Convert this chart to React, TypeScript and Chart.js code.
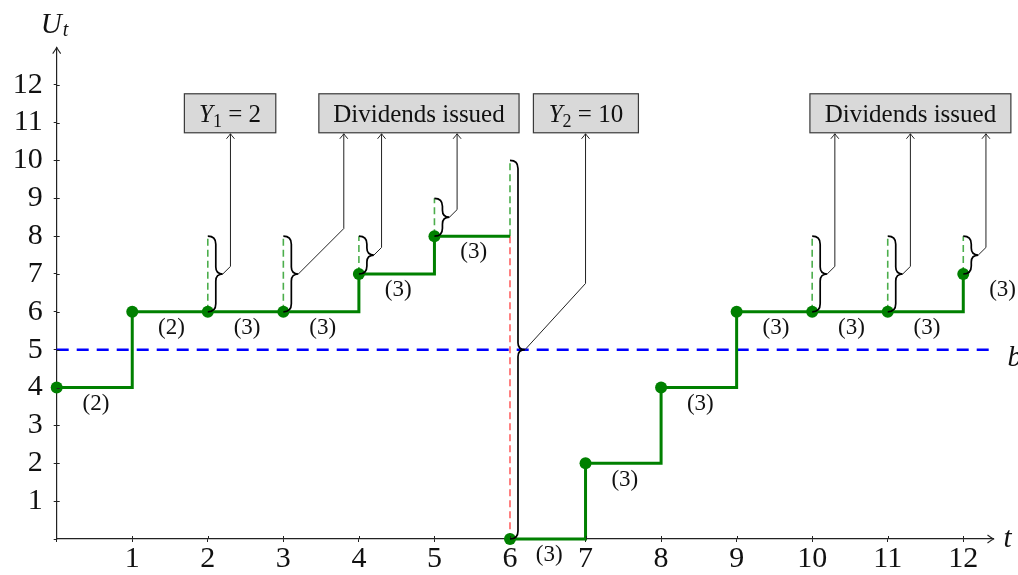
import React, { useEffect, useRef } from 'react';
import { Chart, registerables } from 'chart.js';

Chart.register(...registerables);

const SERIF = '"Liberation Serif", "Times New Roman", serif';
const GREEN = '#008000';
const GREEN_DASH = 'rgba(0,140,0,0.7)';
const RED_DASH = 'rgba(255,40,40,0.72)';
const BLUE = '#0000ff';

// ---- Surplus process U_t (step path, drawn with stepped lines) ----
const pathTimesA = [0, 1, 2, 3, 4, 5, 6];
const pathValuesA = [4, 6, 6, 6, 7, 8, 8];
const pathDotsA = [true, true, true, true, true, true, false];
const pathTimesB = [6, 7, 8, 9, 10, 11, 12];
const pathValuesB = [0, 2, 4, 6, 6, 6, 7];

// ---- ruin drop ----
const ruinTime = 6;
const ruinFrom = 8;
const ruinTo = 0;

// ---- barrier b ----
const barrierLevel = 5;
const barrierStart = 0;
const barrierEnd = 12.4;

// ---- overflow / dividend jumps (green dashed + braces) ----
const jumpTimes = [2, 3, 4, 5, 6, 10, 11, 12];
const jumpLow = [6, 6, 7, 8, 8, 6, 6, 7];
const jumpHigh = [8, 8, 8, 9, 10, 8, 8, 8];
const braceLow = [6, 6, 7, 8, 0, 6, 6, 7];

// ---- arrow knees (from brace tip to label boxes) ----
const kneeX = [2.3, 3.8, 4.3, 5.3, 7.0, 10.3, 11.3, 12.3];
const kneeY = [7.2, 8.2, 7.7, 8.7, 6.75, 7.2, 7.2, 7.7];

// ---- label boxes ----
const boxTexts = ['Y_1 = 2', 'Dividends issued', 'Y_2 = 10', 'Dividends issued'];
const boxLeft = [1.69, 3.47, 6.31, 9.97];
const boxRight = [2.9, 6.12, 7.7, 12.63];
const boxBottom = 10.73;
const boxTop = 11.76;

// ---- step labels ----
const stepLabelTimes = [0, 1, 2, 3, 4, 5, 6, 7, 8, 9, 10, 11, 12];
const stepLabelLevels = [4, 6, 6, 6, 7, 8, 0, 2, 4, 6, 6, 6, 7];
const stepLabelTexts = ['(2)', '(2)', '(3)', '(3)', '(3)', '(3)', '(3)', '(3)', '(3)', '(3)', '(3)', '(3)', '(3)'];

// ---- axes ----
const xMin = 0;
const xMax = 12.4;
const yMin = 0;
const yMax = 12.98;
const xTickValues = [1, 2, 3, 4, 5, 6, 7, 8, 9, 10, 11, 12];
const yTickValues = [1, 2, 3, 4, 5, 6, 7, 8, 9, 10, 11, 12];

function drawMath(ctx: CanvasRenderingContext2D, text: string, cx: number, baseline: number, size: number) {
  const parts: { s: string; font: string; dy: number; gap: number }[] = [];
  const m = text.match(/^(\w)_(\w+)(.*)$/);
  if (m) {
    parts.push({ s: m[1], font: `italic ${size}px ${SERIF}`, dy: 0, gap: 0 });
    parts.push({ s: m[2], font: `${Math.round(size * 0.7)}px ${SERIF}`, dy: size * 0.2, gap: 0 });
    parts.push({ s: m[3], font: `${size}px ${SERIF}`, dy: 0, gap: 0 });
  } else {
    parts.push({ s: text, font: `${size}px ${SERIF}`, dy: 0, gap: 0 });
  }
  let total = 0;
  const widths = parts.map((p) => {
    ctx.font = p.font;
    const w = ctx.measureText(p.s).width + p.gap;
    total += w;
    return w;
  });
  let x = cx - total / 2;
  ctx.textAlign = 'left';
  ctx.textBaseline = 'alphabetic';
  parts.forEach((p, i) => {
    ctx.font = p.font;
    ctx.fillText(p.s, x, baseline + p.dy);
    x += widths[i];
  });
}

const annotPlugin = {
  id: 'annot',
  afterDatasetsDraw(chart: any) {
    const { ctx, chartArea } = chart;
    const xs = chart.scales.x;
    const ys = chart.scales.y;
    const px = (v: number) => xs.getPixelForValue(v);
    const py = (v: number) => ys.getPixelForValue(v);
    ctx.save();

    // inner halves of the tick marks
    ctx.strokeStyle = '#222';
    ctx.lineWidth = 1;
    ctx.beginPath();
    xTickValues.forEach((t) => {
      const x = Math.round(px(t)) + 0.5;
      ctx.moveTo(x, chartArea.bottom);
      ctx.lineTo(x, chartArea.bottom - 3);
    });
    yTickValues.forEach((t) => {
      const y = Math.round(py(t)) + 0.5;
      ctx.moveTo(chartArea.left, y);
      ctx.lineTo(chartArea.left + 3, y);
    });
    ctx.stroke();

    // axis arrow heads
    ctx.lineWidth = 1.1;
    ctx.beginPath();
    const ax = chartArea.right;
    const ay = chartArea.bottom;
    ctx.moveTo(ax - 6, ay - 4);
    ctx.quadraticCurveTo(ax - 2, ay - 1, ax, ay);
    ctx.quadraticCurveTo(ax - 2, ay + 1, ax - 6, ay + 4);
    const tx = chartArea.left;
    const ty = chartArea.top;
    ctx.moveTo(tx - 4, ty + 6);
    ctx.quadraticCurveTo(tx - 1, ty + 2, tx, ty);
    ctx.quadraticCurveTo(tx + 1, ty + 2, tx + 4, ty + 6);
    ctx.stroke();

    // braces
    const AMP = 8;
    const TIP = 7;
    ctx.strokeStyle = '#000';
    ctx.lineWidth = 1.7;
    jumpTimes.forEach((t, i) => {
      const x = px(t);
      const yT = py(jumpHigh[i]);
      const yB = py(braceLow[i]);
      const ym = (yT + yB) / 2;
      ctx.beginPath();
      ctx.moveTo(x, yT);
      ctx.quadraticCurveTo(x + AMP, yT, x + AMP, yT + AMP);
      ctx.lineTo(x + AMP, ym - TIP);
      ctx.quadraticCurveTo(x + AMP, ym, x + AMP + TIP, ym);
      ctx.quadraticCurveTo(x + AMP, ym, x + AMP, ym + TIP);
      ctx.lineTo(x + AMP, yB - AMP);
      ctx.quadraticCurveTo(x + AMP, yB, x, yB);
      ctx.stroke();
    });

    // arrows from brace tips to boxes
    ctx.strokeStyle = '#222';
    ctx.lineWidth = 1;
    jumpTimes.forEach((t, i) => {
      const x0 = px(t) + AMP + TIP;
      const y0 = (py(jumpHigh[i]) + py(braceLow[i])) / 2;
      const kx = px(kneeX[i]);
      const ky = py(kneeY[i]);
      const topY = py(boxBottom);
      ctx.beginPath();
      ctx.moveTo(x0, y0);
      ctx.lineTo(kx, ky);
      ctx.lineTo(kx, topY + 1);
      ctx.stroke();
      ctx.beginPath();
      ctx.moveTo(kx - 4, topY + 6);
      ctx.quadraticCurveTo(kx - 1, topY + 2.5, kx, topY + 1);
      ctx.quadraticCurveTo(kx + 1, topY + 2.5, kx + 4, topY + 6);
      ctx.stroke();
    });

    // boxes
    boxTexts.forEach((txt, i) => {
      const l = px(boxLeft[i]);
      const r = px(boxRight[i]);
      const t = py(boxTop);
      const b = py(boxBottom);
      ctx.fillStyle = '#d9d9d9';
      ctx.fillRect(l, t, r - l, b - t);
      ctx.strokeStyle = '#3a3a3a';
      ctx.lineWidth = 1.2;
      ctx.strokeRect(l, t, r - l, b - t);
      ctx.fillStyle = '#111';
      drawMath(ctx, txt, (l + r) / 2, (t + b) / 2 + 9, 25);
    });

    // step labels
    ctx.fillStyle = '#111';
    ctx.font = `23px ${SERIF}`;
    ctx.textAlign = 'center';
    ctx.textBaseline = 'middle';
    stepLabelTimes.forEach((t, i) => {
      ctx.fillText(stepLabelTexts[i], px(t + 0.52), py(stepLabelLevels[i] - 0.43));
    });

    // axis titles and barrier label
    ctx.textAlign = 'left';
    ctx.textBaseline = 'alphabetic';
    ctx.font = `italic 29px ${SERIF}`;
    ctx.fillText('U', chartArea.left - 16, chartArea.top - 15);
    ctx.font = `italic 20px ${SERIF}`;
    ctx.fillText('t', chartArea.left + 6, chartArea.top - 12);
    ctx.font = `italic 29px ${SERIF}`;
    ctx.fillText('t', chartArea.right + 10, chartArea.bottom + 8);
    ctx.fillText('b', px(barrierEnd) + 14, py(barrierLevel) + 16);

    ctx.restore();
  },
};

export default function App() {
  const ref = useRef<HTMLCanvasElement | null>(null);
  useEffect(() => {
    if (!ref.current) return;
    const chart = new Chart(ref.current, {
      type: 'line',
      data: {
        datasets: [
          {
            data: pathTimesA.map((t, i) => ({ x: t, y: pathValuesA[i] })),
            stepped: true,
            borderColor: GREEN,
            borderWidth: 3,
            pointRadius: pathDotsA.map((d) => (d ? 6 : 0)),
            pointBackgroundColor: GREEN,
            pointBorderColor: GREEN,
            pointBorderWidth: 0,
            fill: false,
            clip: false,
          } as any,
          {
            data: pathTimesB.map((t, i) => ({ x: t, y: pathValuesB[i] })),
            stepped: true,
            borderColor: GREEN,
            borderWidth: 3,
            pointRadius: 6,
            pointBackgroundColor: GREEN,
            pointBorderColor: GREEN,
            pointBorderWidth: 0,
            fill: false,
            clip: false,
          } as any,
          {
            data: [
              { x: ruinTime, y: ruinFrom },
              { x: ruinTime, y: ruinTo },
            ],
            borderColor: RED_DASH,
            borderDash: [7, 4],
            borderWidth: 1.6,
            pointRadius: 0,
            fill: false,
            clip: false,
          } as any,
          {
            data: jumpTimes.flatMap((t, i) => [
              { x: t, y: jumpLow[i] },
              { x: t, y: jumpHigh[i] },
              { x: t, y: null },
            ]),
            borderColor: GREEN_DASH,
            borderDash: [7, 4],
            borderWidth: 1.6,
            pointRadius: 0,
            spanGaps: false,
            fill: false,
            clip: false,
          } as any,
          {
            data: [
              { x: barrierStart, y: barrierLevel },
              { x: barrierEnd, y: barrierLevel },
            ],
            borderColor: BLUE,
            borderDash: [12, 8],
            borderWidth: 2.5,
            pointRadius: 0,
            fill: false,
            clip: false,
          } as any,
        ],
      },
      options: {
        animation: false,
        responsive: true,
        maintainAspectRatio: false,
        events: [],
        layout: { padding: { left: 0, right: 24.5, top: 47.6, bottom: 0 } },
        plugins: { legend: { display: false }, tooltip: { enabled: false } },
        scales: {
          x: {
            type: 'linear',
            min: xMin,
            max: xMax,
            afterFit: (s: any) => {
              s.height = 36;
            },
            grid: { drawOnChartArea: false, drawTicks: true, tickLength: 3, color: '#222', lineWidth: 1 },
            border: { display: true, color: '#222', width: 1.2 },
            ticks: {
              stepSize: 1,
              includeBounds: false,
              autoSkip: false,
              maxRotation: 0,
              padding: 2,
              color: '#111',
              font: { family: SERIF, size: 30, lineHeight: 1 },
              callback: (v: any) => (xTickValues.includes(Number(v)) ? String(v) : ''),
            },
          },
          y: {
            type: 'linear',
            min: yMin,
            max: yMax,
            afterFit: (s: any) => {
              s.width = 56.7;
            },
            grid: { drawOnChartArea: false, drawTicks: true, tickLength: 3, color: '#222', lineWidth: 1 },
            border: { display: true, color: '#222', width: 1.2 },
            ticks: {
              stepSize: 1,
              includeBounds: false,
              autoSkip: false,
              padding: 11,
              color: '#111',
              font: { family: SERIF, size: 30, lineHeight: 1 },
              callback: (v: any) => (yTickValues.includes(Number(v)) ? String(v) : ''),
            },
          },
        },
      },
      plugins: [annotPlugin],
    });
    return () => chart.destroy();
  }, []);

  return (
    <div style={{ position: 'fixed', left: 0, top: 0, width: 1018, height: 575, background: '#fff' }}>
      <canvas ref={ref} />
    </div>
  );
}
